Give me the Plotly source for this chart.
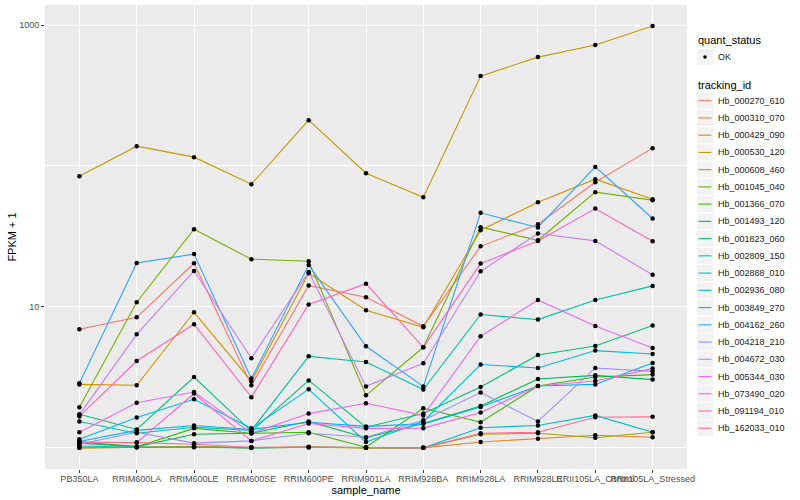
import plotly.graph_objects as go

samples = ["PB350LA", "RRIM600LA", "RRIM600LE", "RRIM600SE", "RRIM600PE", "RRIM901LA",
           "RRIM928BA", "RRIM928LA", "RRIM928LE", "RRII105LA_Control", "RRII105LA_Stressed"]

tracking_ids = ["Hb_000270_610", "Hb_000310_070", "Hb_000429_090", "Hb_000530_120", "Hb_000608_460",
                "Hb_001045_040", "Hb_001366_070", "Hb_001493_120", "Hb_001823_060", "Hb_002809_150",
                "Hb_002888_010", "Hb_002936_080", "Hb_003849_270", "Hb_004162_260", "Hb_004218_210",
                "Hb_004672_030", "Hb_005344_030", "Hb_073490_020", "Hb_091194_010", "Hb_162033_010"]

hb_000270_610 = [6.94, 8.44, 20.4, 2.78, 14.2, 11.7, 7.29, 26.9, 38.6, 76.7, 133.8]
hb_000310_070 = [1.00, 1.01, 1.02, 1.00, 1.02, 1.00, 1.00, 1.10, 1.16, 1.23, 1.19]
hb_000429_090 = [2.82, 2.78, 9.16, 2.97, 17.3, 9.47, 7.17, 35.0, 55.3, 80.6, 58.1]
hb_000530_120 = [84.6, 138.2, 115.5, 74.3, 211.4, 88.9, 60.0, 434, 592, 721, 983]
hb_000608_460 = [1.00, 1.01, 1.02, 1.00, 1.01, 1.00, 1.00, 1.25, 1.27, 1.18, 1.29]
hb_001045_040 = [1.94, 10.8, 35.6, 21.8, 21.1, 2.36, 5.17, 36.8, 29.7, 65.2, 57.2]
hb_001366_070 = [1.10, 1.02, 1.375, 1.27, 1.29, 1.01, 1.91, 1.52, 2.75, 3.18, 3.31]
hb_001493_120 = [1.08, 1.02, 1.25, 1.27, 1.54, 1.18, 1.49, 1.98, 3.08, 3.27, 3.05]
hb_001823_060 = [1.73, 1.35, 3.18, 1.31, 3.01, 1.40, 1.75, 2.70, 4.56, 5.28, 7.37]
hb_002809_150 = [1.54, 1.27, 1.40, 1.33, 4.46, 4.07, 2.59, 8.83, 8.13, 11.2, 14.1]
hb_002888_010 = [1.03, 1.01, 1.01, 1.00, 1.01, 1.00, 1.00, 1.39, 1.44, 1.70, 1.29]
hb_002936_080 = [1.15, 1.64, 2.21, 1.375, 2.60, 1.10, 1.54, 3.90, 3.69, 4.90, 4.63]
hb_003849_270 = [1.11, 1.33, 1.44, 1.35, 1.52, 1.42, 1.48, 1.95, 2.75, 2.82, 4.00]
hb_004162_260 = [2.87, 20.5, 23.7, 3.10, 19.8, 5.26, 2.73, 46.5, 36.6, 98.5, 42.4]
hb_004218_210 = [1.06, 1.29, 1.08, 1.12, 1.27, 1.19, 1.57, 2.47, 1.54, 3.69, 3.49]
hb_004672_030 = [1.72, 6.39, 18.0, 4.32, 17.7, 2.73, 3.98, 17.9, 33.2, 29.4, 16.9]
hb_005344_030 = [1.29, 2.09, 2.49, 1.27, 1.75, 2.07, 1.70, 6.19, 11.2, 7.32, 5.11]
hb_073490_020 = [1.09, 1.09, 2.43, 1.12, 1.49, 1.375, 1.38, 1.78, 2.75, 2.98, 3.65]
hb_091194_010 = [1.67, 4.13, 7.53, 2.29, 10.4, 14.6, 5.17, 20.3, 29.4, 49.9, 29.2]
hb_162033_010 = [1.10, 1.09, 1.06, 1.01, 1.01, 1.00, 1.00, 1.27, 1.29, 1.65, 1.66]

series_values = [hb_000270_610, hb_000310_070, hb_000429_090, hb_000530_120, hb_000608_460,
                 hb_001045_040, hb_001366_070, hb_001493_120, hb_001823_060, hb_002809_150,
                 hb_002888_010, hb_002936_080, hb_003849_270, hb_004162_260, hb_004218_210,
                 hb_004672_030, hb_005344_030, hb_073490_020, hb_091194_010, hb_162033_010]

colors = ["#F8766D", "#EA8331", "#D89000", "#C09B00", "#A3A500", "#7CAE00", "#39B600", "#00BB4E",
          "#00BF7D", "#00C1A3", "#00BFC4", "#00BAE0", "#00B0F6", "#35A2FF", "#9590FF", "#C77CFF",
          "#E76BF3", "#FA62DB", "#FF62BC", "#FF6C91"]

FONT = "Liberation Sans, Arial, sans-serif"
W, H = 800, 500
ML, MR, MT, MB = 45, 113, 5, 31
PW, PH = W - ML - MR, H - MT - MB


def px(xp):
    return (xp - ML) / PW


def py(yp):
    return (H - MB - yp) / PH


fig = go.Figure()
for i, (tid, vals) in enumerate(zip(tracking_ids, series_values)):
    fig.add_trace(go.Scatter(
        x=samples, y=vals, mode="lines", name=tid,
        line=dict(color=colors[i], width=1.1), hoverinfo="skip", showlegend=False,
    ))

all_x = [s for vals in series_values for s in samples]
all_y = [v for vals in series_values for v in vals]
fig.add_trace(go.Scatter(
    x=all_x, y=all_y, mode="markers", name="OK",
    marker=dict(color="black", size=4.5), showlegend=False,
))

# manual ggplot-style legend
shapes = []
annotations = []
KX0, KX1 = 697, 713
annotations.append(dict(x=px(696), y=py(40.5), xref="paper", yref="paper", text="quant_status",
                        showarrow=False, xanchor="left", yanchor="middle",
                        font=dict(size=11, color="black", family=FONT)))
shapes.append(dict(type="rect", xref="paper", yref="paper", x0=px(KX0), x1=px(KX1),
                   y0=py(49), y1=py(65), fillcolor="#F2F2F2", line=dict(width=0), layer="above"))
shapes.append(dict(type="circle", xref="paper", yref="paper", x0=px(703.2), x1=px(706.8),
                   y0=py(55.2), y1=py(58.8), fillcolor="black", line=dict(width=0), layer="above"))
annotations.append(dict(x=px(716), y=py(57), xref="paper", yref="paper", text="OK",
                        showarrow=False, xanchor="left", yanchor="middle",
                        font=dict(size=9, color="#1a1a1a", family=FONT)))
annotations.append(dict(x=px(696), y=py(84.5), xref="paper", yref="paper", text="tracking_id",
                        showarrow=False, xanchor="left", yanchor="middle",
                        font=dict(size=11, color="black", family=FONT)))
for i, tid in enumerate(tracking_ids):
    cy = 100.7 + i * 17.24
    shapes.append(dict(type="rect", xref="paper", yref="paper", x0=px(KX0), x1=px(KX1),
                       y0=py(cy - 8), y1=py(cy + 8), fillcolor="#F2F2F2", line=dict(width=0),
                       layer="above"))
    shapes.append(dict(type="line", xref="paper", yref="paper", x0=px(698.5), x1=px(711.5),
                       y0=py(cy), y1=py(cy), line=dict(color=colors[i], width=1.1), layer="above"))
    annotations.append(dict(x=px(716), y=py(cy), xref="paper", yref="paper", text=tid,
                            showarrow=False, xanchor="left", yanchor="middle",
                            font=dict(size=9, color="#1a1a1a", family=FONT)))

fig.update_layout(
    width=W, height=H,
    margin=dict(l=ML, r=MR, t=MT, b=MB, autoexpand=False),
    paper_bgcolor="white", plot_bgcolor="#EBEBEB",
    font=dict(family=FONT, size=9, color="#1a1a1a"),
    showlegend=False,
    shapes=shapes, annotations=annotations,
    xaxis=dict(
        type="category", categoryorder="array", categoryarray=samples,
        range=[-0.6, 10.6], showgrid=True, gridcolor="white", gridwidth=1.1,
        zeroline=False, ticks="outside", ticklen=3, tickcolor="#333333",
        tickangle=0, tickfont=dict(size=9, color="#4D4D4D"), automargin=False,
        ticklabelstandoff=-2,
        title=dict(text="sample_name", font=dict(size=11, color="black"), standoff=0),
        showline=False,
    ),
    yaxis=dict(
        type="log", range=[-0.15, 3.142],
        tickvals=[10, 1000], ticktext=["10", "1000"],
        showgrid=True, gridcolor="white", gridwidth=1.1,
        minor=dict(tickvals=[1, 100], showgrid=True, gridcolor="white", gridwidth=0.55, ticks=""),
        zeroline=False, ticks="outside", ticklen=3, tickcolor="#333333",
        tickfont=dict(size=9, color="#4D4D4D"), automargin=False,
        title=dict(text="FPKM + 1", font=dict(size=11, color="black"), standoff=0),
        showline=False,
    ),
)

fig.write_html(
    "out.html",
    config={"displayModeBar": False},
    post_script="document.body.style.margin='0';document.body.style.padding='0';document.body.style.overflow='hidden';",
)
